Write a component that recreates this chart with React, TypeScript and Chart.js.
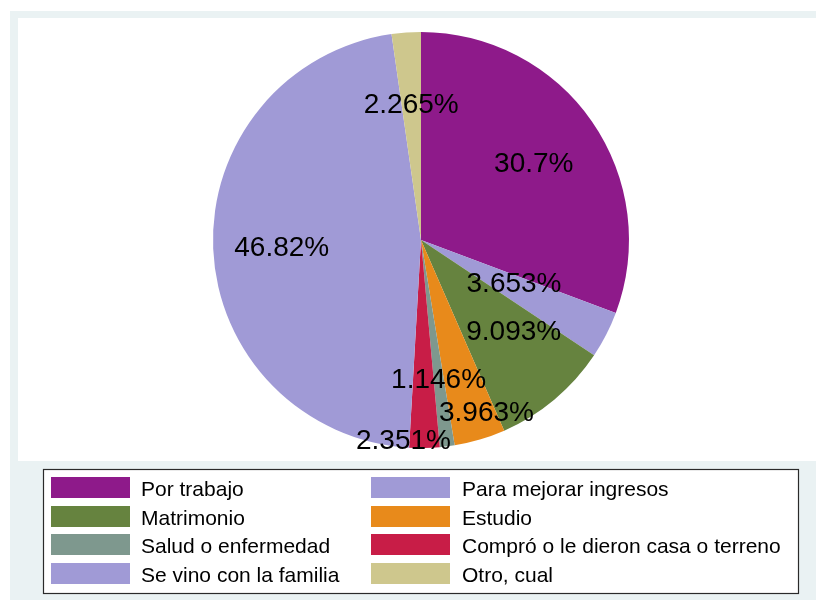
import React, { useEffect, useRef } from "react";
import { Chart, registerables } from "chart.js";

Chart.register(...registerables);

const categories = [
  "Por trabajo",
  "Para mejorar ingresos",
  "Matrimonio",
  "Estudio",
  "Salud o enfermedad",
  "Compró o le dieron casa o terreno",
  "Se vino con la familia",
  "Otro, cual",
];
const shares = [30.7, 3.653, 9.093, 3.963, 1.146, 2.351, 46.82, 2.265];
const colors = [
  "#8E1A8A",
  "#A09AD6",
  "#66833F",
  "#E88A1B",
  "#7E988E",
  "#C81D47",
  "#A09AD6",
  "#CEC78D",
];

// label placement style: [radius factor, angle offset in degrees]
const labelPlacement: [number, number][] = [
  [0.66, 0],
  [0.49, -3],
  [0.62, -6],
  [0.88, -4.5],
  [0.67, 0],
  [0.96, 6],
  [0.67, 0],
  [0.66, 0],
];

const FONT = "'Liberation Sans', Arial, sans-serif";

const backgroundPlugin = {
  id: "stataBg",
  beforeDraw(chart: any) {
    const ctx = chart.ctx;
    ctx.save();
    ctx.fillStyle = "#FFFFFF";
    ctx.fillRect(0, 0, chart.width, chart.height);
    ctx.fillStyle = "#EAF2F3";
    ctx.fillRect(10, 11, chart.width - 10, 589);
    ctx.fillStyle = "#FFFFFF";
    ctx.fillRect(18, 18, chart.width - 18, 443);
    ctx.restore();
  },
};

const labelPlugin = {
  id: "sliceLabels",
  afterDatasetsDraw(chart: any) {
    const ctx = chart.ctx;
    const meta = chart.getDatasetMeta(0);
    const data = chart.data.datasets[0].data as number[];
    ctx.save();
    ctx.font = `28px ${FONT}`;
    ctx.fillStyle = "#000000";
    ctx.textAlign = "center";
    ctx.textBaseline = "alphabetic";
    meta.data.forEach((arc: any, i: number) => {
      const p = arc.getProps(["x", "y", "startAngle", "endAngle", "outerRadius"], true);
      const [f, off] = labelPlacement[i];
      const mid = (p.startAngle + p.endAngle) / 2 + (off * Math.PI) / 180;
      const r = p.outerRadius * f;
      const x = p.x + Math.cos(mid) * r;
      const y = p.y + Math.sin(mid) * r;
      const txt = parseFloat(data[i].toPrecision(4)).toString() + "%";
      ctx.fillText(txt, x, y + 10);
    });
    ctx.restore();
  },
};

const legendPlugin = {
  id: "boxLegend",
  afterDraw(chart: any) {
    const ctx = chart.ctx;
    const labels = chart.data.labels as string[];
    const bg = chart.data.datasets[0].backgroundColor as string[];
    ctx.save();
    ctx.fillStyle = "#FFFFFF";
    ctx.fillRect(43, 469, 755, 124);
    ctx.strokeStyle = "#2A2A2A";
    ctx.lineWidth = 1.2;
    ctx.strokeRect(43.5, 469.5, 755, 124);
    const colX = [51, 371];
    const textX = [141, 462];
    const rowTop = [477, 506, 534, 563];
    ctx.font = `21px ${FONT}`;
    ctx.textAlign = "left";
    ctx.textBaseline = "alphabetic";
    labels.forEach((lab, i) => {
      const col = i % 2;
      const row = Math.floor(i / 2);
      ctx.fillStyle = bg[i];
      ctx.fillRect(colX[col], rowTop[row], 79, 21);
      ctx.fillStyle = "#000000";
      ctx.fillText(lab, textX[col], rowTop[row] + 19);
    });
    ctx.restore();
  },
};

export default function App() {
  const ref = useRef<HTMLCanvasElement | null>(null);
  useEffect(() => {
    if (!ref.current) return;
    const chart = new Chart(ref.current, {
      type: "pie",
      data: {
        labels: categories,
        datasets: [
          {
            data: shares,
            backgroundColor: colors,
            borderWidth: 0,
          },
        ],
      },
      options: {
        animation: false,
        responsive: false,
        maintainAspectRatio: false,
        devicePixelRatio: 1,
        layout: { padding: { left: 213, right: 187, top: 32, bottom: 153 } },
        plugins: {
          legend: { display: false },
          tooltip: { enabled: false },
        },
      },
      plugins: [backgroundPlugin, labelPlugin, legendPlugin],
    });
    return () => chart.destroy();
  }, []);
  return (
    <div style={{ position: "absolute", left: 0, top: 0, width: 816, height: 601 }}>
      <canvas ref={ref} width={816} height={601} style={{ display: "block" }} />
    </div>
  );
}
